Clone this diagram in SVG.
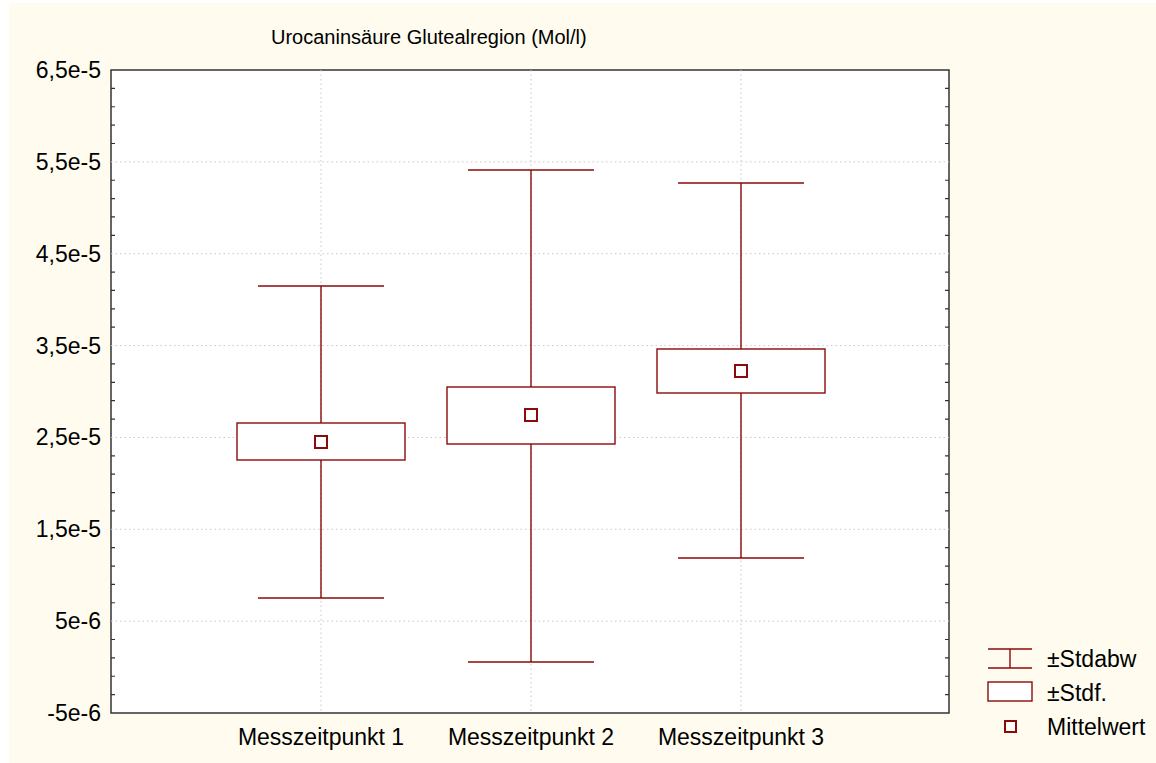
<svg xmlns="http://www.w3.org/2000/svg" width="1156" height="763" viewBox="0 0 1156 763">
<style>
  text { font-family: "Liberation Sans", Arial, sans-serif; fill: #000; }
  .ax { font-size: 23px; }
  .ylab { font-size: 23px; text-anchor: end; }
  .xlab { font-size: 23px; text-anchor: middle; }
  .title { font-size: 20px; }
  .grid { stroke: #c8c8c8; stroke-width: 1; stroke-dasharray: 1.5 3; fill: none; }
  .frame { fill: #fff; stroke: #333; stroke-width: 1.5; }
  .tick { stroke: #333; stroke-width: 1.2; fill: none; }
  .bar { stroke: #8b0a0a; stroke-width: 1.4; fill: none; }
  .box { stroke: #8b0a0a; stroke-width: 1.4; fill: #fff; }
  .mean { stroke: #8b0a0a; stroke-width: 2; fill: #fff; }
</style>
<rect x="9" y="3" width="1147" height="760" fill="#fffcef"/>
<text class="title" x="271" y="44">Urocaninsäure Glutealregion (Mol/l)</text>
<rect class="frame" x="111" y="70" width="838" height="643"/>
<g id="grid">
  <path class="grid" d="M111 161.86H949M111 253.71H949M111 345.57H949M111 437.43H949M111 529.29H949M111 621.14H949"/>
  <path class="grid" d="M321 70V713M531 70V713M741 70V713"/>
</g>
<g id="ticks">
  <path class="tick" d="M111 88.37h4M111 106.74h4M111 125.11h4M111 143.49h4M111 180.23h4M111 198.6h4M111 216.97h4M111 235.34h4M111 272.09h4M111 290.46h4M111 308.83h4M111 327.2h4M111 363.94h4M111 382.31h4M111 400.69h4M111 419.06h4M111 455.8h4M111 474.17h4M111 492.54h4M111 510.91h4M111 547.66h4M111 566.03h4M111 584.4h4M111 602.77h4M111 639.51h4M111 657.89h4M111 676.26h4M111 694.63h4"/>
  <path class="tick" d="M949 88.37h-4M949 106.74h-4M949 125.11h-4M949 143.49h-4M949 180.23h-4M949 198.6h-4M949 216.97h-4M949 235.34h-4M949 272.09h-4M949 290.46h-4M949 308.83h-4M949 327.2h-4M949 363.94h-4M949 382.31h-4M949 400.69h-4M949 419.06h-4M949 455.8h-4M949 474.17h-4M949 492.54h-4M949 510.91h-4M949 547.66h-4M949 566.03h-4M949 584.4h-4M949 602.77h-4M949 639.51h-4M949 657.89h-4M949 676.26h-4M949 694.63h-4"/>
</g>
<g id="yaxis-labels">
  <text class="ylab" x="101" y="78">6,5e-5</text>
  <text class="ylab" x="101" y="170">5,5e-5</text>
  <text class="ylab" x="101" y="262">4,5e-5</text>
  <text class="ylab" x="101" y="354">3,5e-5</text>
  <text class="ylab" x="101" y="445">2,5e-5</text>
  <text class="ylab" x="101" y="537">1,5e-5</text>
  <text class="ylab" x="101" y="629">5e-6</text>
  <text class="ylab" x="101" y="721">-5e-6</text>
</g>
<g id="connectors">
  <path class="bar" d="M321 286V423M321 460V598M258 286H384M258 598H384"/>
  <path class="bar" d="M531 170V387M531 444V662M468 170H594M468 662H594"/>
  <path class="bar" d="M741 183V349M741 393V558M678 183H804M678 558H804"/>
</g>
<g id="m1">
  <rect class="box" x="237" y="423" width="168" height="37"/>
  <rect class="mean" x="315" y="436" width="12" height="12"/>
  <text class="xlab" x="321" y="745">Messzeitpunkt 1</text>
</g>
<g id="m2">
  <rect class="box" x="447" y="387" width="168" height="57"/>
  <rect class="mean" x="525" y="409" width="12" height="12"/>
  <text class="xlab" x="531" y="745">Messzeitpunkt 2</text>
</g>
<g id="m3">
  <rect class="box" x="657" y="349" width="168" height="44"/>
  <rect class="mean" x="735" y="365" width="12" height="12"/>
  <text class="xlab" x="741" y="745">Messzeitpunkt 3</text>
</g>
<g id="legend">
  <path class="bar" d="M988 649H1032M988 668H1032M1010 649V668"/>
  <text class="ax" x="1047" y="667">±Stdabw</text>
  <rect class="box" x="988" y="682" width="44" height="19"/>
  <text class="ax" x="1047" y="701">±Stdf.</text>
  <rect class="mean" x="1005" y="721" width="11" height="11"/>
  <text class="ax" x="1047" y="735">Mittelwert</text>
</g>
</svg>
